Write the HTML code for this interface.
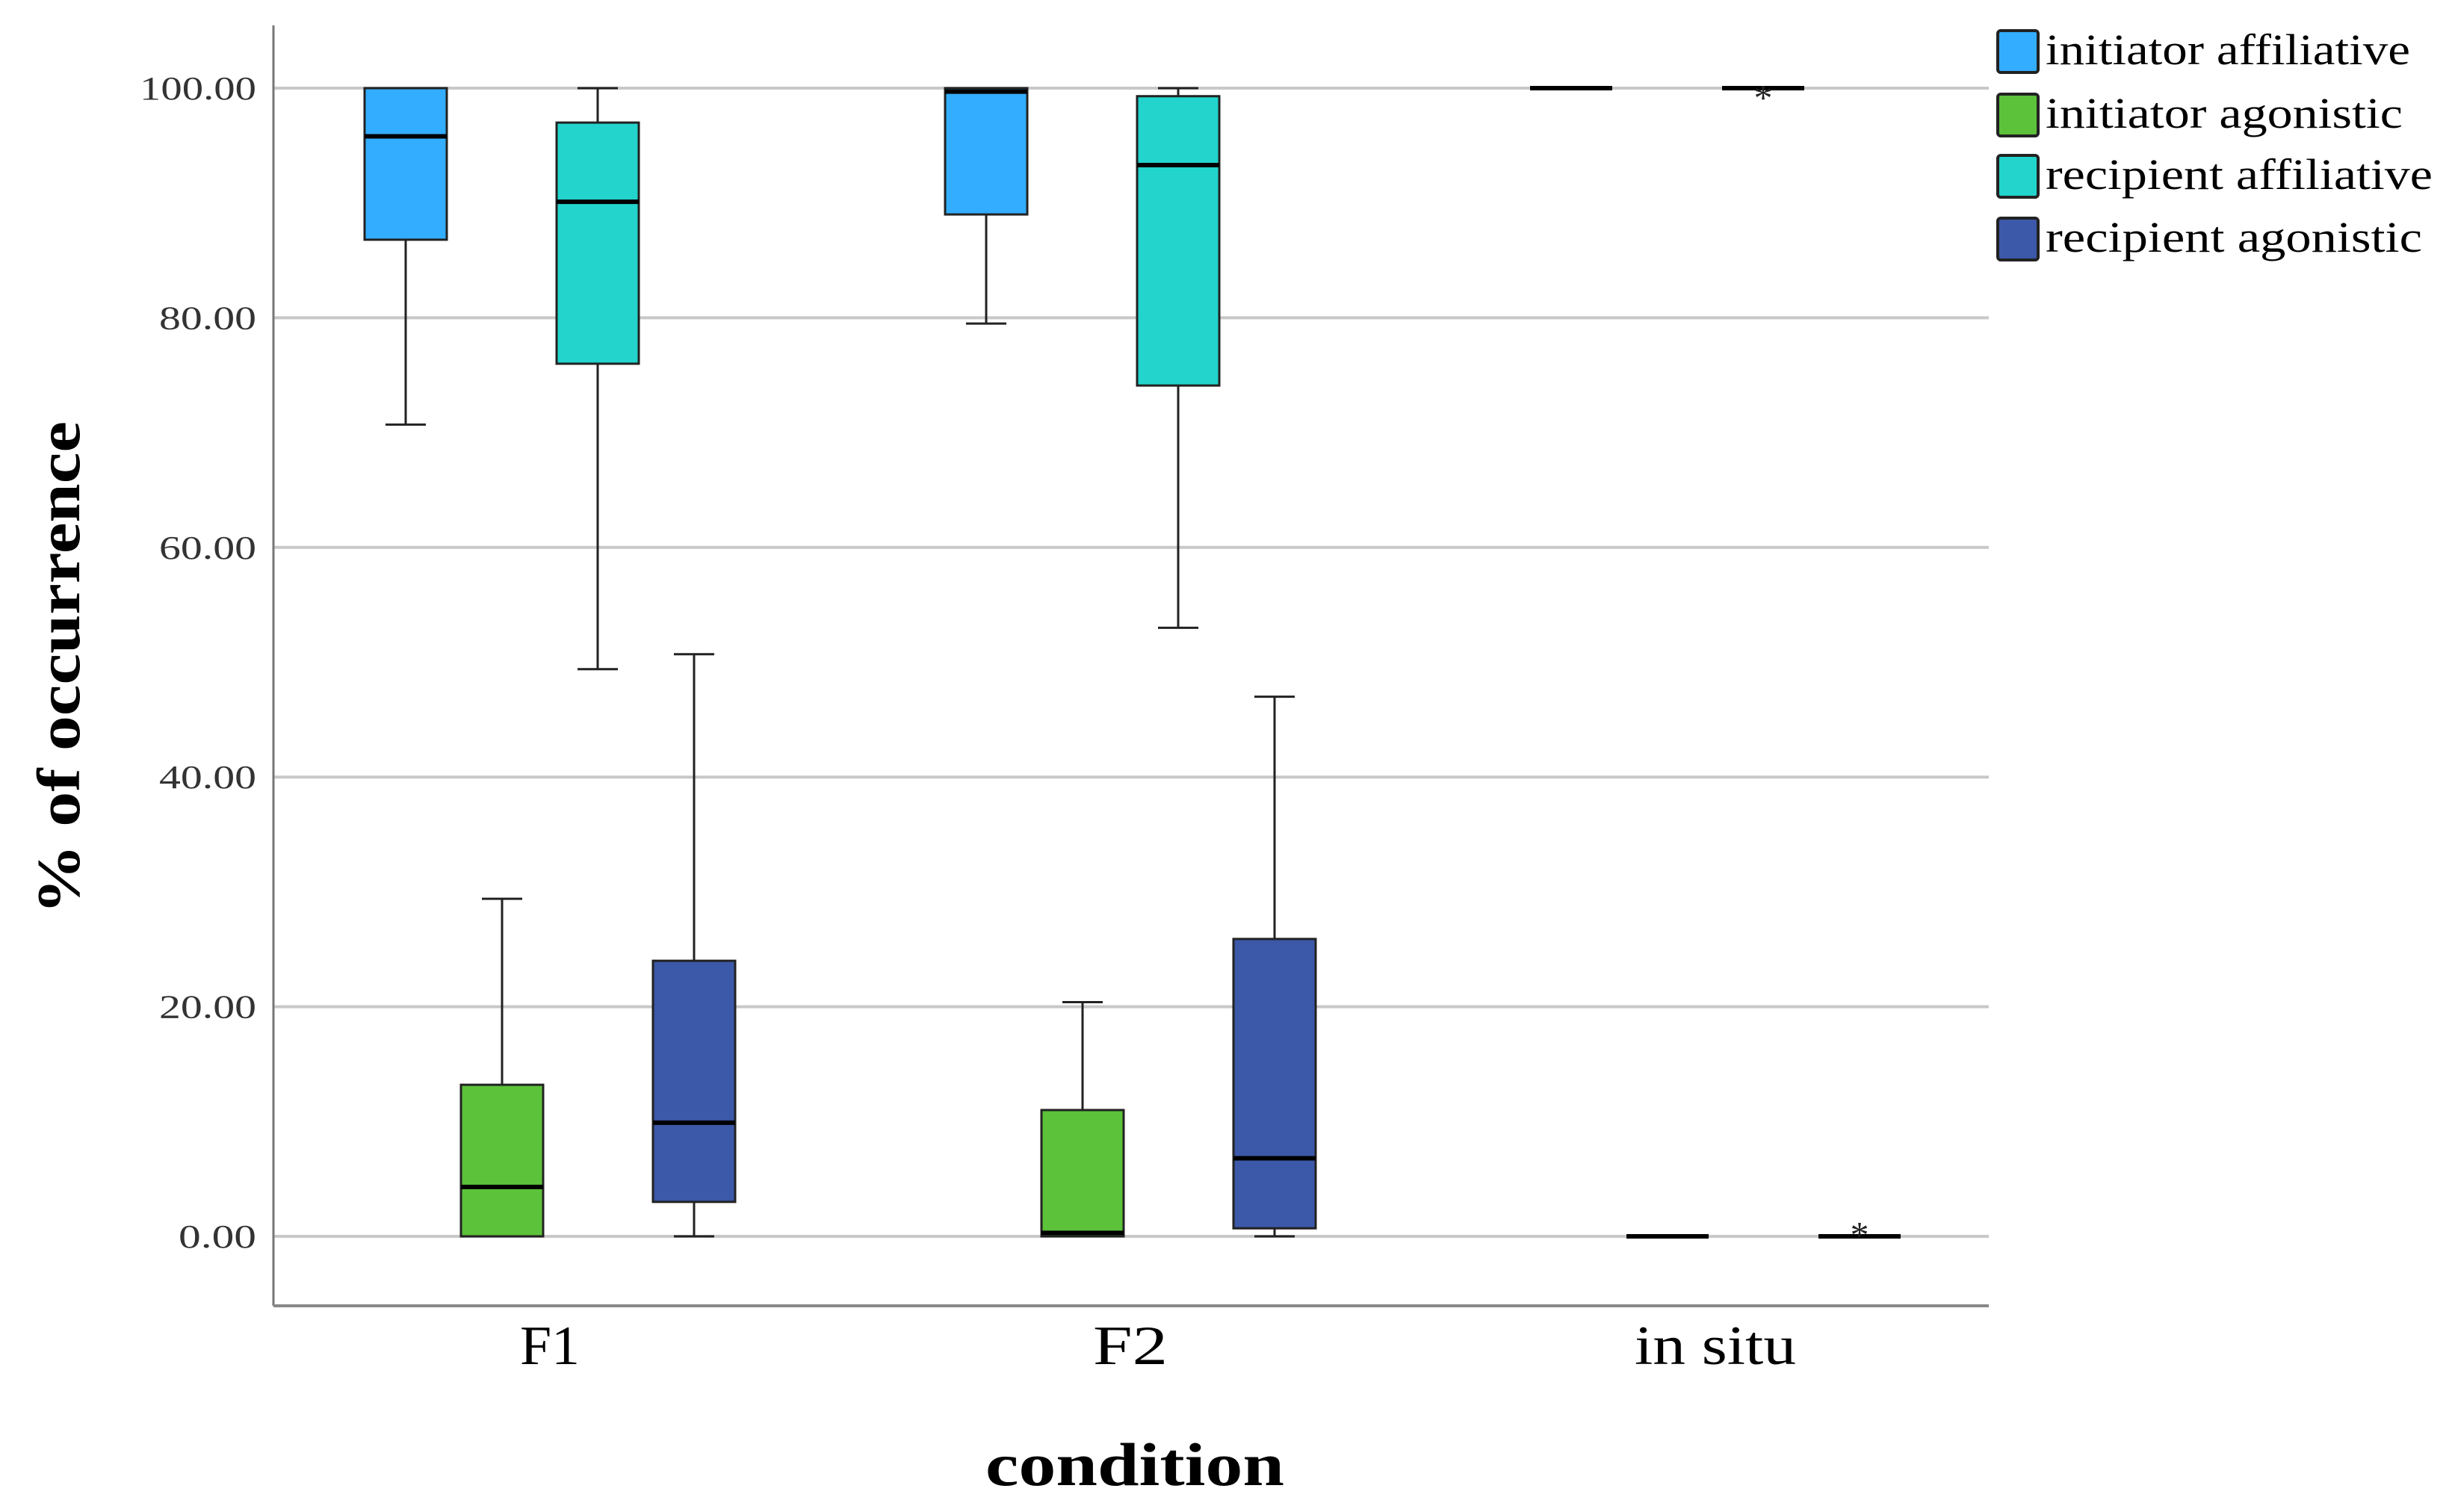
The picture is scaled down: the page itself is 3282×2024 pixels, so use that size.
<!DOCTYPE html>
<html><head><meta charset="utf-8"><style>
html,body{margin:0;padding:0;background:#fff}
svg{display:block}
text{font-family:"Liberation Serif",serif}
</style></head><body>
<svg id="chart" width="3282" height="2024" viewBox="0 0 3282 2024" xmlns="http://www.w3.org/2000/svg">
<g id="grid"></g>
<g id="marks"></g>
<g id="axes"></g>
<g id="legend"></g>
</svg>
<script>
const categories = ["F1","F2","in situ"];
const seriesNames = ["initiator affiliative","initiator agonistic","recipient affiliative","recipient agonistic"];
const seriesColors = ["#33adff","#5cc23a","#22d4cc","#3c58a8"];
// [min, q1, median, q3, max] per category
const initAffil = [[70.7,86.8,95.8,100,100],[79.5,89,99.7,100,100],[100,100,100,100,100]];
const initAgon  = [[0,0,4.3,13.2,29.4],[0,0,0.3,11,20.4],[0,0,0,0,0]];
const recAffil  = [[49.4,76,90.1,97,100],[53,74.1,93.3,99.3,100],[100,100,100,100,100]];
const recAgon   = [[0,3,9.9,24,50.7],[0,0.7,6.8,25.9,47],[0,0,0,0,0]];
const outliers = [[2,2,99.5],[3,2,0.5]]; // [series, category, value]
const yTicks = [0,20,40,60,80,100];
const yTickLabels = ["0.00","20.00","40.00","60.00","80.00","100.00"];

const NS="http://www.w3.org/2000/svg";
const X0=366, X1=2662, YTOP=34, YBOT=1748;
const y=v=>1655-(v/100)*1537;
const catX=i=>[736,1513,2296][i];
const offs=[-193,-64,64,193];
const BW=110;
function mk(tag,attrs,parent){const e=document.createElementNS(NS,tag);for(const k in attrs)e.setAttribute(k,attrs[k]);parent.appendChild(e);return e;}
const grid=document.getElementById('grid'),marks=document.getElementById('marks'),axes=document.getElementById('axes'),legend=document.getElementById('legend');

yTicks.forEach((t,i)=>{
  const l=mk('line',{x1:X0,x2:X1,y1:y(t),y2:y(t),stroke:'#c8c8c8','stroke-width':4},grid);
  
  
  const len=yTickLabels[i].length*26;
  const tx=mk('text',{x:343,y:y(t)+15,'text-anchor':'end','font-size':44,fill:'#333',textLength:len,lengthAdjust:'spacingAndGlyphs'},axes);
  tx.textContent=yTickLabels[i];
  
  
});

const allSeries=[initAffil,initAgon,recAffil,recAgon];
allSeries.forEach((ser,s)=>{
  ser.forEach((d,c)=>{
    const cx=catX(c)+offs[s];
    const g=mk('g',{},marks);
    
    
    const [mn,q1,md,q3,mx]=d;
    if(mx>q3){mk('line',{x1:cx,x2:cx,y1:y(mx),y2:y(q3),stroke:'#222','stroke-width':3},g);}
    if(q1>mn){mk('line',{x1:cx,x2:cx,y1:y(q1),y2:y(mn),stroke:'#222','stroke-width':3},g);}
    mk('line',{x1:cx-27,x2:cx+27,y1:y(mx),y2:y(mx),stroke:'#222','stroke-width':3},g);
    mk('line',{x1:cx-27,x2:cx+27,y1:y(mn),y2:y(mn),stroke:'#222','stroke-width':3},g);
    const h=Math.max(y(q1)-y(q3),0);
    mk('rect',{x:cx-BW/2,y:y(q3),width:BW,height:h,fill:seriesColors[s],stroke:'#222','stroke-width':3},g);
    mk('line',{x1:cx-BW/2,x2:cx+BW/2,y1:y(md),y2:y(md),stroke:'#000','stroke-width':6},g);
  });
});
outliers.forEach(o=>{
  const t=mk('text',{x:catX(o[1])+offs[o[0]],y:y(o[2])+22,'text-anchor':'middle','font-size':50,fill:'#222'},marks);
  t.textContent='*';
  
  
});

const ya=mk('line',{x1:X0,x2:X0,y1:YTOP,y2:YBOT,stroke:'#777','stroke-width':3},axes);


const xa=mk('line',{x1:X0,x2:X1,y1:YBOT,y2:YBOT,stroke:'#888','stroke-width':4},axes);


const catLen=[80,100,216];
categories.forEach((c,i)=>{
  const t=mk('text',{x:catX(i),y:1826,'text-anchor':'middle','font-size':74,fill:'#000',textLength:catLen[i],lengthAdjust:'spacingAndGlyphs'},axes);
  t.textContent=c;
  
  
});
const xt=mk('text',{x:1519,y:1988,'text-anchor':'middle','font-size':82,'font-weight':'bold',fill:'#000',textLength:400,lengthAdjust:'spacingAndGlyphs'},axes);
xt.textContent='condition';


const yt=mk('text',{x:0,y:0,'text-anchor':'middle','font-size':82,'font-weight':'bold',fill:'#000',transform:'translate(106,894) rotate(-90)',textLength:660,lengthAdjust:'spacingAndGlyphs'},axes);
yt.textContent='% of occurrence';



const rowsY=[69,154,236,320];
const legLen=[488,478,518,504];
seriesNames.forEach((n,i)=>{
  const g=mk('g',{},legend);
  
  
  mk('rect',{x:2674,y:rowsY[i]-28,width:54,height:56,rx:4,fill:seriesColors[i],stroke:'#222','stroke-width':4},g);
  const t=mk('text',{x:2738,y:rowsY[i]+17,'font-size':58,fill:'#000',textLength:legLen[i],lengthAdjust:'spacingAndGlyphs'},g);
  t.textContent=n;
});
</script>
</body></html>
